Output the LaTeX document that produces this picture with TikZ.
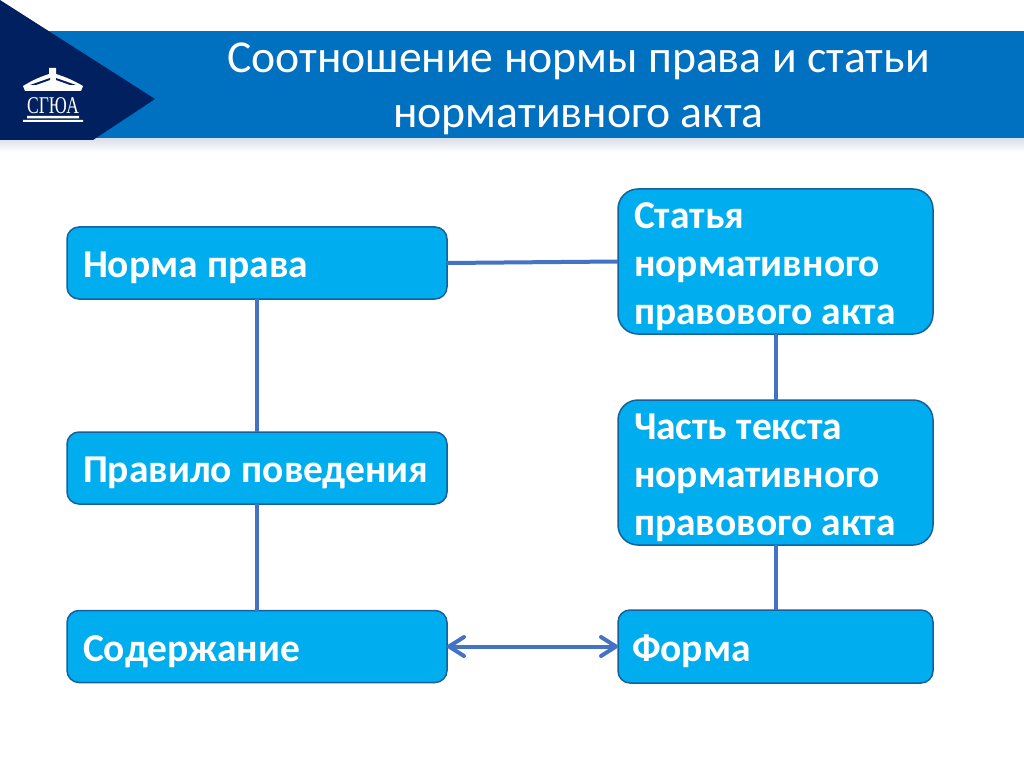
\documentclass[tikz,border=0pt]{standalone}
\usepackage{fontspec}
\setmainfont{Carlito}
\newfontfamily\logofont{Liberation Serif}
\definecolor{bandblue}{HTML}{0070C0}
\definecolor{navyblue}{HTML}{002060}
\definecolor{boxblue}{HTML}{00AEEF}
\definecolor{boxline}{HTML}{17609C}
\definecolor{linkblue}{HTML}{4472C4}
\usetikzlibrary{arrows.meta}
\tikzset{
  termbox/.style={draw=boxline,fill=boxblue,line width=1.5pt,outer sep=0pt,
    inner xsep=16pt,inner ysep=0pt,text=white,font=\fontsize{39.5}{48}\selectfont\bfseries,align=left,
    execute at begin node={\spaceskip=.24em\rule{0pt}{36pt}}},
  wideterm/.style={termbox,rounded corners=12pt,text width=348pt,minimum height=72pt},
  tallterm/.style={termbox,rounded corners=20pt,text width=283pt,minimum height=145pt},
  linkline/.style={draw=linkblue,line width=4pt},
}
\begin{document}
\begin{tikzpicture}[x=1pt,y=-1pt]
  \useasboundingbox (0,0) rectangle (1024,767);
  \fill[white] (0,0) rectangle (1024,767);
  % header
  \shade[top color=navyblue!15,bottom color=white] (0,138) rectangle (1024,152);
  \fill[bandblue] (40,31) rectangle (1024,138);
  \fill[navyblue] (0,0) -- (155,99) -- (93,140) -- (0,140) -- cycle;
  \node[text=white,font=\fontsize{45.7}{55}\selectfont,align=center] (title) at (578.5,89)
    {Соотношение нормы права и статьи\\нормативного акта};
  % logo
  \fill[white] (23,86) to[bend left=6] (49,74) -- (49,68) -- (56,68) -- (56,74) to[bend left=6] (83,86) -- (81,91) -- (25,91) -- cycle;
  \fill[navyblue] (30,85) -- (50,78) -- (50,80) -- (36,85) -- cycle (76,85) -- (56,78) -- (56,80) -- (70,85) -- cycle;
  \node[text=white,inner sep=0pt,xscale=.73,font=\logofont\fontsize{24}{24}\selectfont] (logo) at (53,105.5) {СГЮА};
  \fill[white] (27,116) rectangle (79,118.5) (23,120) rectangle (83,122);
  % boxes
  \node[wideterm] (norma) at (257,263) {Норма права};
  \node[wideterm] (pravilo) at (257,468) {Правило поведения};
  \node[wideterm] (content) at (257,646.5) {Содержание};
  \node[tallterm] (statya) at (775.5,261.5) {Статья\\нормативного\\правового акта};
  \node[tallterm] (chast) at (775.5,472.5) {Часть текста\\нормативного\\правового акта};
  \node[termbox,rounded corners=12pt,inner xsep=14pt,text width=287pt,minimum height=73pt] (forma) at (775.5,646.5) {Форма};
  % links
  \draw[linkline] (norma.east) -- (statya.west);
  \foreach \a/\b in {norma/pravilo, pravilo/content, statya/chast, chast/forma}
    \draw[linkline] (\a.south) -- (\b.north);
  \draw[linkline,{Straight Barb[length=15pt,width=19pt,round]}-{Straight Barb[length=15pt,width=19pt,round]}] (content.east) -- (forma.west);
\end{tikzpicture}
\end{document}
